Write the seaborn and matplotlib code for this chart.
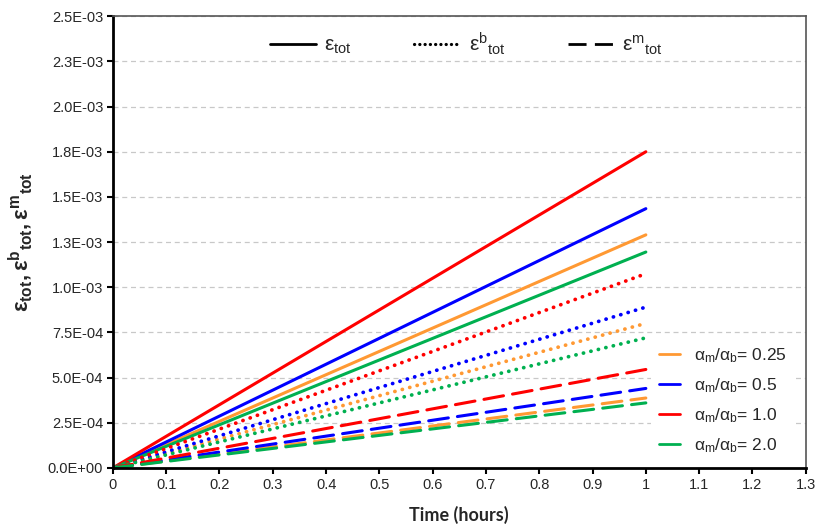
import numpy as np
import pandas as pd
import seaborn as sns
import matplotlib
matplotlib.use("Agg")
import matplotlib.pyplot as plt
from matplotlib.lines import Line2D

# ---- data (straight lines from origin to t = 1 h)
time_hours = [0.0, 1.0]
ratios = ["0.25", "0.5", "1.0", "2.0"]
ratio_colors = ["#FF9933", "#0000FF", "#FF0000", "#00B050"]

eps_tot_end = [1.29e-3, 1.435e-3, 1.75e-3, 1.195e-3]
eps_b_end = [0.80e-3, 0.89e-3, 1.075e-3, 0.72e-3]
eps_m_end = [0.387e-3, 0.44e-3, 0.545e-3, 0.36e-3]

xticks = [0, 0.1, 0.2, 0.3, 0.4, 0.5, 0.6, 0.7, 0.8, 0.9, 1.0, 1.1, 1.2, 1.3]
xtick_labels = ["0", "0.1", "0.2", "0.3", "0.4", "0.5", "0.6", "0.7", "0.8",
                "0.9", "1", "1.1", "1.2", "1.3"]
yticks = [0, 0.25e-3, 0.5e-3, 0.75e-3, 1.0e-3, 1.25e-3, 1.5e-3, 1.75e-3,
          2.0e-3, 2.25e-3, 2.5e-3]
ytick_labels = ["0.0E+00", "2.5E-04", "5.0E-04", "7.5E-04", "1.0E-03", "1.3E-03",
                "1.5E-03", "1.8E-03", "2.0E-03", "2.3E-03", "2.5E-03"]

rows = []
for comp, ends in [("tot", eps_tot_end), ("b", eps_b_end), ("m", eps_m_end)]:
    for r, e in zip(ratios, ends):
        rows.append({"time": time_hours[0], "strain": 0.0, "ratio": r, "comp": comp})
        rows.append({"time": time_hours[1], "strain": e, "ratio": r, "comp": comp})
df = pd.DataFrame(rows)

sns.set_style("white")
plt.rcParams["font.family"] = ["Liberation Sans", "DejaVu Sans"]
plt.rcParams["mathtext.fontset"] = "custom"
plt.rcParams["mathtext.rm"] = "Liberation Sans"
plt.rcParams["mathtext.it"] = "Liberation Sans"
plt.rcParams["mathtext.bf"] = "Liberation Sans:bold"

fig = plt.figure(figsize=(8.18, 5.24), dpi=100)
ax = fig.add_axes([0.138, 0.107, 0.847, 0.862])

palette = dict(zip(ratios, ratio_colors))
# line style and width per strain component
comp_style = {"tot": ("-", 2.2), "b": ((0, (0.05, 2.0)), 2.7), "m": ((0, (6.5, 3)), 2.2)}
for comp, (ls, lw) in comp_style.items():
    sns.lineplot(data=df[df["comp"] == comp], x="time", y="strain", hue="ratio",
                 palette=palette, hue_order=ratios, linewidth=lw, linestyle=ls,
                 ax=ax, legend=False)
for ln in ax.get_lines():
    ln.set_dash_capstyle("round")

ax.set_xlim(0, 1.3)
ax.set_ylim(0, 2.5e-3)
ax.set_xticks(xticks)
ax.set_xticklabels(xtick_labels, fontsize=10.5)
ax.set_yticks(yticks)
ax.set_yticklabels(ytick_labels, fontsize=10.5)
ax.yaxis.grid(True, color="#c8c8c8", linestyle=(0, (4, 3)), linewidth=0.9)
ax.xaxis.grid(False)
ax.tick_params(axis="both", direction="out", length=4, width=1.5, color="black",
               bottom=True, left=True, pad=3)

for side in ["left", "bottom"]:
    ax.spines[side].set_color("black")
    ax.spines[side].set_linewidth(2)
for side in ["top", "right"]:
    ax.spines[side].set_color("#555555")
    ax.spines[side].set_linewidth(1.2)

ax.set_xlabel("Time (hours)", fontsize=13, fontweight="bold", family=["Lato", "DejaVu Sans"])
ax.xaxis.set_label_coords(0.5, -0.085)
ax.set_ylabel(r"$\mathbf{ε_{tot}, ε^{b}{}_{tot}, ε^{m}{}_{tot}}$", fontsize=16)
ax.yaxis.set_label_coords(-0.112, 0.5)

style_handles = [
    Line2D([], [], color="black", linewidth=2),
    Line2D([], [], color="black", linewidth=2.3, linestyle=(0, (0.05, 1.6)),
           dash_capstyle="round"),
    Line2D([], [], color="black", linewidth=2, linestyle=(0, (6.5, 3))),
]
style_labels = [r"$\mathrm{ε}_{\mathrm{tot}}$",
                r"$\mathrm{ε}^{\mathrm{b}}{}_{\mathrm{tot}}$",
                r"$\mathrm{ε}^{\mathrm{m}}{}_{\mathrm{tot}}$"]
leg1 = ax.legend(style_handles, style_labels, loc="upper center",
                 bbox_to_anchor=(0.51, 1.01), ncol=3, frameon=False, fontsize=15,
                 handlelength=2.2, columnspacing=3.0, handletextpad=0.4)
ax.add_artist(leg1)

ratio_handles = [Line2D([], [], color=c, linewidth=2) for c in ratio_colors]
ratio_labels = [r"$\alpha_m/\alpha_b$= " + r for r in ratios]
leg2 = ax.legend(ratio_handles, ratio_labels, loc="lower right",
                 bbox_to_anchor=(0.998, -0.01), frameon=True, fontsize=12.5,
                 handlelength=1.2, labelspacing=0.65, borderpad=0.5)
leg2.get_frame().set_facecolor("white")
leg2.get_frame().set_edgecolor("none")
leg2.get_frame().set_alpha(1)

fig.savefig("out.png", dpi=100)
